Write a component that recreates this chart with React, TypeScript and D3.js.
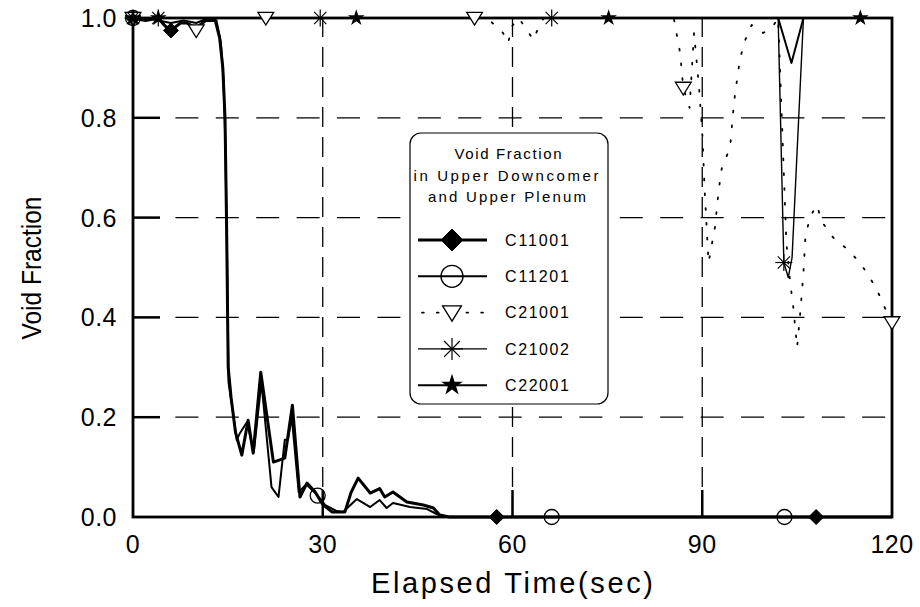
import React from 'react';
import * as d3 from 'd3';

// ---- data (time in sec, void fraction) ----
const timeC11001 = [0, 2, 4, 5, 6, 7.5, 8.5, 10, 11.5, 13, 13.7, 14.2, 14.55, 14.8, 15.05, 15.5, 16.2, 17.2, 18.2, 19, 20.2, 22.2, 24, 25.2, 26.4, 27.5, 28.8, 30, 31.5, 33.5, 34.5, 35.6, 37.5, 39, 39.8, 41.1, 43.3, 45.9, 47.5, 48.5, 50, 120];
const voidC11001 = [1, 0.995, 1, 0.985, 0.975, 0.99, 0.99, 0.98, 0.995, 0.995, 0.96, 0.9, 0.8, 0.58, 0.3, 0.24, 0.17, 0.124, 0.194, 0.128, 0.29, 0.11, 0.118, 0.224, 0.04, 0.068, 0.05, 0.025, 0.01, 0.01, 0.05, 0.078, 0.048, 0.057, 0.04, 0.05, 0.03, 0.024, 0.018, 0.004, 0, 0];

const timeC11201 = [0, 2, 4, 6, 8, 10, 12, 13.2, 13.9, 14.3, 14.6, 14.9, 15.1, 15.7, 16.4, 16.9, 18, 19.1, 20.3, 21.9, 23, 24, 24.5, 25.1, 26.2, 27.4, 29, 30.4, 32.2, 33.2, 35.4, 37.5, 39, 40.1, 41.1, 43.8, 46.5, 48, 49.5, 120];
const voidC11201 = [1, 1, 0.995, 0.99, 0.995, 0.99, 1, 0.995, 0.95, 0.88, 0.75, 0.5, 0.27, 0.22, 0.154, 0.168, 0.19, 0.13, 0.27, 0.06, 0.04, 0.155, 0.155, 0.2, 0.05, 0.065, 0.046, 0.024, 0.012, 0.01, 0.036, 0.02, 0.034, 0.018, 0.028, 0.02, 0.016, 0.006, 0, 0];

const timeC21001 = [0, 8, 10, 11, 13, 56, 58.5, 59.3, 60, 61, 62.8, 63.3, 64.4, 65, 85.5, 86.5, 87, 88, 88.7, 89.5, 90, 90.4, 91, 91.5, 92, 92.6, 93.1, 94.4, 94.8, 95.2, 96, 96.8, 97.8, 99.6, 101, 102, 103.3, 103.9, 104.4, 105, 105.5, 106, 106.3, 107, 108.1, 109, 110.7, 113.1, 114.9, 116.5, 117.8, 119.2, 120];
const voidC21001 = [1, 1, 0.975, 0.99, 1, 1, 0.97, 0.95, 0.985, 1, 0.966, 0.956, 0.99, 1, 1, 0.93, 0.86, 0.82, 0.97, 0.86, 0.77, 0.65, 0.51, 0.545, 0.58, 0.655, 0.7, 0.74, 0.8, 0.85, 0.92, 0.956, 0.986, 0.97, 0.98, 1, 0.55, 0.47, 0.42, 0.34, 0.41, 0.49, 0.56, 0.6, 0.625, 0.59, 0.56, 0.535, 0.51, 0.48, 0.45, 0.41, 0.39];

const timeC21002 = [0, 102, 102.9, 103.6, 104.2, 106, 120];
const voidC21002 = [1, 1, 0.51, 0.48, 0.52, 1, 1];

const timeC22001 = [0, 102, 104.1, 106, 120];
const voidC22001 = [1, 1, 0.91, 1, 1];

// marker times along each curve
const markC11001 = [0, 6, 57.5, 108];
const markC11201 = [0, 29.2, 66.2, 103];
const markC21001 = [0, 10, 21, 54, 87, 120];
const markC21002 = [0, 4, 29.6, 66.2, 102.9];
const markC22001 = [0, 4, 35.3, 75.2, 115];

const seriesNames = ['C11001', 'C11201', 'C21001', 'C21002', 'C22001'];
const xTicks = [0, 30, 60, 90, 120];
const yTicks = [0, 0.2, 0.4, 0.6, 0.8, 1.0];
const legendTitle = ['Void Fraction', 'in Upper Downcomer', 'and Upper Plenum'];
const xTitle = 'Elapsed Time(sec)';
const yTitle = 'Void Fraction';

const FONT = "'Liberation Sans', Arial, Helvetica, sans-serif";

type Kind = 'diamond' | 'circle' | 'triangle' | 'asterisk' | 'star';

function Marker({ kind, cx, cy, s }: { kind: Kind; cx: number; cy: number; s: number }) {
  const h = s / 2;
  if (kind === 'diamond') {
    return <path d={`M${cx},${cy - h}L${cx + h},${cy}L${cx},${cy + h}L${cx - h},${cy}Z`} fill="#000" stroke="#000" strokeWidth={1} />;
  }
  if (kind === 'circle') {
    return <circle cx={cx} cy={cy} r={h} fill="none" stroke="#000" strokeWidth={1.3} />;
  }
  if (kind === 'triangle') {
    const w = h * 1.05;
    return <path d={`M${cx - w},${cy - h * 0.75}L${cx + w},${cy - h * 0.75}L${cx},${cy + h * 0.95}Z`} fill="#fff" stroke="#000" strokeWidth={1.3} />;
  }
  if (kind === 'asterisk') {
    const d = h * 0.72;
    return (
      <g stroke="#000" strokeWidth={1.2}>
        <line x1={cx - h} y1={cy} x2={cx + h} y2={cy} />
        <line x1={cx} y1={cy - h} x2={cx} y2={cy + h} />
        <line x1={cx - d} y1={cy - d} x2={cx + d} y2={cy + d} />
        <line x1={cx - d} y1={cy + d} x2={cx + d} y2={cy - d} />
      </g>
    );
  }
  const star = d3.symbol().type(d3.symbolStar).size(s * s * 0.3)();
  return <path d={star || ''} transform={`translate(${cx},${cy})`} fill="#000" />;
}

export default function App() {
  const W = 920, H = 607;
  const x = d3.scaleLinear().domain([0, 120]).range([133, 892]);
  const y = d3.scaleLinear().domain([0, 1]).range([517, 18]);

  const series = [
    { name: seriesNames[0], t: timeC11001, v: voidC11001, marks: markC11001, kind: 'diamond' as Kind, sw: 3, dash: undefined as string | undefined, ms: 15, lms: 22 },
    { name: seriesNames[1], t: timeC11201, v: voidC11201, marks: markC11201, kind: 'circle' as Kind, sw: 2, dash: undefined, ms: 15, lms: 22 },
    { name: seriesNames[2], t: timeC21001, v: voidC21001, marks: markC21001, kind: 'triangle' as Kind, sw: 1.8, dash: '1.8 13', ms: 15, lms: 18 },
    { name: seriesNames[3], t: timeC21002, v: voidC21002, marks: markC21002, kind: 'asterisk' as Kind, sw: 1.4, dash: undefined, ms: 17, lms: 22 },
    { name: seriesNames[4], t: timeC22001, v: voidC22001, marks: markC22001, kind: 'star' as Kind, sw: 2, dash: undefined, ms: 17, lms: 22 },
  ];

  const line = d3.line<[number, number]>().x(d => x(d[0])).y(d => y(d[1]));
  const interp = (ts: number[], vs: number[], t: number) => {
    const i = d3.bisectLeft(ts, t);
    if (i <= 0) return vs[0];
    if (i >= ts.length) return vs[vs.length - 1];
    const t0 = ts[i - 1], t1 = ts[i];
    const f = t1 === t0 ? 0 : (t - t0) / (t1 - t0);
    return vs[i - 1] + f * (vs[i] - vs[i - 1]);
  };

  const [x0, x1] = x.range();
  const [yb, yt] = y.range();

  const lgX = 410, lgY = 133, lgW = 198, lgH = 271;
  const rowY = (i: number) => 240 + i * 36.3;

  return (
    <svg width={W} height={H} style={{ position: 'absolute', left: 0, top: 0, background: '#fff' }} fontFamily={FONT}>
      <rect x={0} y={0} width={W} height={H} fill="#fff" />
      {/* grid */}
      {yTicks.filter(t => t > 0 && t < 1).map(t => (
        <line key={'gy' + t} x1={x0} x2={x1} y1={y(t)} y2={y(t)} stroke="#000" strokeWidth={1.3} strokeDasharray="23 17.4" strokeDashoffset={-2} />
      ))}
      {xTicks.filter(t => t > 0 && t < 120).map(t => (
        <line key={'gx' + t} x1={x(t)} x2={x(t)} y1={yb} y2={yt} stroke="#000" strokeWidth={1.3} strokeDasharray="20 10" />
      ))}
      {/* ticks */}
      {yTicks.filter(t => t > 0 && t < 1).map(t => (
        <line key={'ty' + t} x1={x0} x2={x0 + 27} y1={y(t)} y2={y(t)} stroke="#000" strokeWidth={2.5} />
      ))}
      {xTicks.filter(t => t > 0 && t < 120).map(t => (
        <line key={'tx' + t} x1={x(t)} x2={x(t)} y1={yb} y2={yb - 27} stroke="#000" strokeWidth={2.5} />
      ))}

      {/* series lines */}
      {series.map(s => (
        <path key={s.name} d={line(s.t.map((t, i) => [t, s.v[i]] as [number, number])) || ''} fill="none" stroke="#000" strokeWidth={s.sw} strokeDasharray={s.dash} strokeLinecap={s.dash ? 'round' : 'butt'} strokeLinejoin="round" />
      ))}

      {/* frame */}
      <rect x={x0} y={yt} width={x1 - x0} height={yb - yt} fill="none" stroke="#000" strokeWidth={2.8} />

      {/* markers */}
      {series.map(s => s.marks.map((mt, i) => (
        <Marker key={s.name + i} kind={s.kind} cx={x(mt)} cy={y(interp(s.t, s.v, mt))} s={s.ms} />
      )))}

      {/* axis labels */}
      {yTicks.map(t => (
        <text key={'yl' + t} x={117} y={y(t)} dy="0.36em" textAnchor="end" fontSize={25} letterSpacing={0.5}>{t.toFixed(1)}</text>
      ))}
      {xTicks.map(t => (
        <text key={'xl' + t} x={x(t)} y={553} textAnchor="middle" fontSize={25} letterSpacing={0.5}>{String(t)}</text>
      ))}
      <text x={512} y={593} textAnchor="middle" fontSize={29} textLength={282} lengthAdjust="spacing">{xTitle}</text>
      <text transform="translate(41,268) rotate(-90)" textAnchor="middle" fontSize={28} textLength={143} lengthAdjust="spacingAndGlyphs">{yTitle}</text>

      {/* legend */}
      <rect x={lgX} y={lgY} width={lgW} height={lgH} rx={11} fill="#fff" stroke="#000" strokeWidth={1.2} />
      <text x={508} y={159} textAnchor="middle" fontSize={15} textLength={107} lengthAdjust="spacing">{legendTitle[0]}</text>
      <text x={506} y={181} textAnchor="middle" fontSize={15} textLength={185} lengthAdjust="spacing">{legendTitle[1]}</text>
      <text x={507} y={202} textAnchor="middle" fontSize={15} textLength={158} lengthAdjust="spacing">{legendTitle[2]}</text>
      {series.map((s, i) => (
        <g key={'lg' + s.name}>
          <line x1={418} x2={487} y1={rowY(i)} y2={rowY(i)} stroke="#000" strokeWidth={s.sw} strokeDasharray={s.dash ? '1.8 13' : undefined} strokeDashoffset={s.dash ? -4 : 0} strokeLinecap={s.dash ? 'round' : 'butt'} />
          <Marker kind={s.kind} cx={452} cy={rowY(i)} s={s.lms} />
          <text x={505} y={rowY(i)} dy="0.36em" fontSize={16} textLength={64} lengthAdjust="spacing">{s.name}</text>
        </g>
      ))}
    </svg>
  );
}
